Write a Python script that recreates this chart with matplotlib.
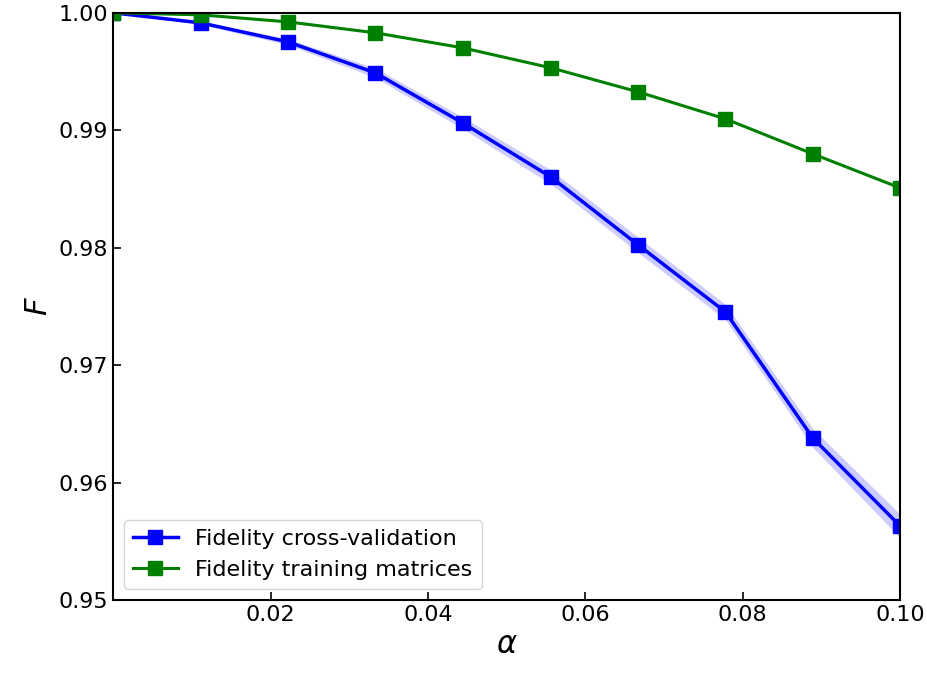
import numpy as np
import matplotlib
matplotlib.use('Agg')
import matplotlib.pyplot as plt

# données
alpha = [0.0, 0.0111, 0.0222, 0.0333, 0.0444, 0.0556, 0.0667, 0.0778, 0.0889, 0.1]
f_cv = [1.0, 0.99915, 0.99753, 0.99489, 0.99063, 0.98603, 0.98024, 0.97453, 0.96380, 0.95630]
f_cv_std = [0.0, 0.00015, 0.00025, 0.0004, 0.0005, 0.0006, 0.00065, 0.00065, 0.0008, 0.001]
f_train = [1.0, 0.99983, 0.99923, 0.99830, 0.99702, 0.99532, 0.99327, 0.99097, 0.98799, 0.98509]
xticks = [0.02, 0.04, 0.06, 0.08, 0.10]
yticks = [0.95, 0.96, 0.97, 0.98, 0.99, 1.00]

fig = plt.figure(figsize=(9.28, 6.75), dpi=100)
ax = fig.add_axes([0.122, 0.111, 0.848, 0.87])

lo = np.array(f_cv) - np.array(f_cv_std)
hi = np.array(f_cv) + np.array(f_cv_std)
ax.fill_between(alpha, lo, hi, color='blue', alpha=0.2, linewidth=0)
ax.plot(alpha, f_cv, color='blue', marker='s', markersize=10, linewidth=2.5,
        label='Fidelity cross-validation')
ax.plot(alpha, f_train, color='green', marker='s', markersize=10, linewidth=2.2,
        label='Fidelity training matrices')

ax.set_xlim(0, 0.1)
ax.set_ylim(0.95, 1.0)
ax.set_xticks(xticks)
ax.set_xticklabels(['%.2f' % v for v in xticks])
ax.set_yticks(yticks)
ax.set_yticklabels(['%.2f' % v for v in yticks])
ax.tick_params(direction='in', labelsize=16, length=6, width=1.2)
for s in ax.spines.values():
    s.set_linewidth(1.5)

ax.set_xlabel(r'$\alpha$', fontsize=22)
ax.set_ylabel(r'$F$', fontsize=22)

ax.legend(loc='lower left', fontsize=16)

fig.savefig('out.png', dpi=100)
